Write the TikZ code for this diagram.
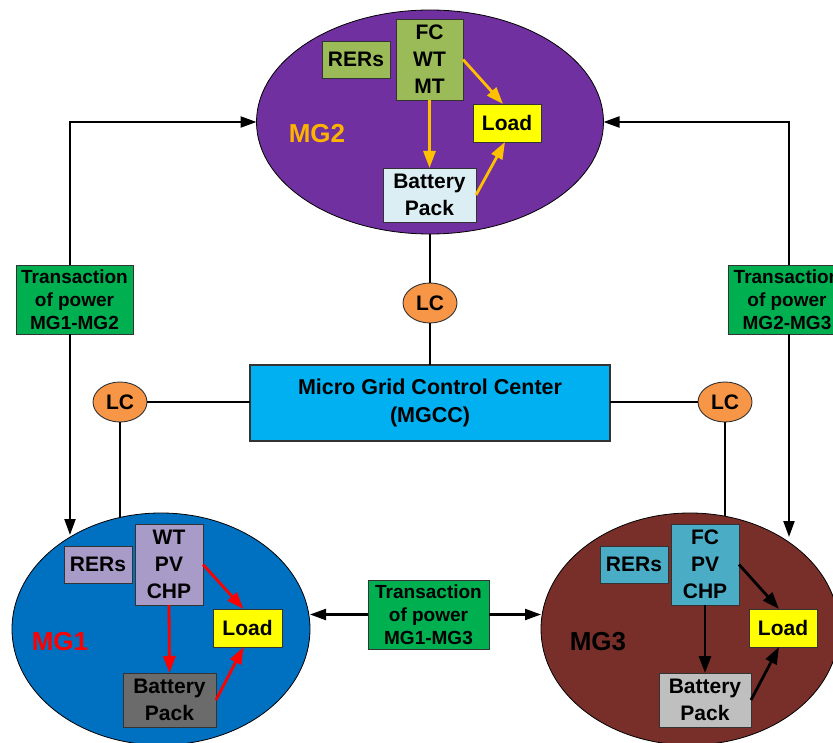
\documentclass[tikz,border=0pt]{standalone}
\usepackage{fontspec}
\setmainfont{Liberation Sans}
\usetikzlibrary{shapes.geometric,arrows.meta}
\definecolor{mgpurple}{HTML}{7030A0}
\definecolor{mgblue}{HTML}{0070C0}
\definecolor{mgbrown}{HTML}{782F29}
\definecolor{olivebox}{HTML}{9BBB59}
\definecolor{lavbox}{HTML}{A99BC8}
\definecolor{tealbox}{HTML}{4BACC6}
\definecolor{loadyellow}{HTML}{FFFF00}
\definecolor{batlight}{HTML}{DBEEF4}
\definecolor{batdark}{HTML}{6B6B6B}
\definecolor{batgray}{HTML}{BFBFBF}
\definecolor{trgreen}{HTML}{00B050}
\definecolor{lcorange}{HTML}{F79646}
\definecolor{mgccblue}{HTML}{00B0F0}
\definecolor{goldarrow}{HTML}{FFC000}
\definecolor{mgtwolab}{HTML}{FDB300}
\begin{document}
\begin{tikzpicture}[x=1pt,y=-1pt,
  grid/.style={ellipse, draw=black, line width=0.8pt, inner sep=0pt, outer sep=0pt},
  blk/.style={rectangle, draw=black!80, line width=0.9pt, inner sep=0pt, outer sep=0pt, align=center, text=black, font=\fontsize{21}{27}\selectfont\bfseries},
  lcnode/.style={ellipse, draw=black!80, line width=0.9pt, fill=lcorange, minimum width=54pt, minimum height=40pt, inner sep=0pt, outer sep=0pt, font=\fontsize{21}{25}\selectfont\bfseries},
  trans/.style={blk, fill=trgreen, minimum width=117pt, minimum height=69pt, font=\fontsize{19}{23}\selectfont\bfseries},
  mglabel/.style={font=\fontsize{26}{30}\selectfont\bfseries, inner sep=0pt},
  conn/.style={line width=2.2pt, draw=black},
  tip/.style={-{Triangle[length=16pt,width=11pt]}},
  flow/.style={line width=2.8pt, -{Triangle[length=17pt,width=12pt]}}
]
\useasboundingbox (0,0) rectangle (833,743);
\clip (0,0) rectangle (833,743);

% micro grids
\node[grid, fill=mgpurple, minimum width=347pt, minimum height=224pt] (mg2) at (430,122) {};
\node[grid, fill=mgblue, minimum width=298pt, minimum height=232pt] (mg1) at (161,629) {};
\node[grid, fill=mgbrown, minimum width=298pt, minimum height=232pt] (mg3) at (690,629) {};

\node[mglabel, text=mgtwolab] (lab2) at (317,134) {MG2};
\node[mglabel, text=red] (lab1) at (60,642) {MG1};
\node[mglabel, text=black] (lab3) at (598,642) {MG3};

% MG2 contents
\node[blk, fill=olivebox, minimum width=68pt, minimum height=37pt] (rers2) at (356,59.5) {RERs};
\node[blk, fill=olivebox, minimum width=67pt, minimum height=81pt] (src2) at (429.5,59.5) {FC\\WT\\MT};
\node[blk, fill=loadyellow, minimum width=68pt, minimum height=38pt] (load2) at (507,123) {Load};
\node[blk, fill=batlight, minimum width=93pt, minimum height=54pt] (bat2) at (429.5,195) {Battery\\Pack};
\draw[flow, draw=goldarrow] (src2.south) -- (bat2.north);
\draw[flow, draw=goldarrow] (src2.east) -- ([xshift=-4pt]load2.north);
\draw[flow, draw=goldarrow] (bat2.east) -- ([xshift=-2pt]load2.south);

% MG1 contents
\node[blk, fill=lavbox, minimum width=68pt, minimum height=37pt] (rers1) at (98,564.5) {RERs};
\node[blk, fill=lavbox, minimum width=68pt, minimum height=81pt] (src1) at (169,564.5) {WT\\PV\\CHP};
\node[blk, fill=loadyellow, minimum width=69pt, minimum height=38pt] (load1) at (247.5,628) {Load};
\node[blk, fill=batdark, minimum width=93pt, minimum height=54pt] (bat1) at (169.5,700) {Battery\\Pack};
\draw[flow, draw=red] (src1.south) -- (bat1.north);
\draw[flow, draw=red] (src1.east) -- ([xshift=-4pt]load1.north);
\draw[flow, draw=red] (bat1.east) -- ([xshift=-4pt]load1.south);

% MG3 contents
\node[blk, fill=tealbox, minimum width=68pt, minimum height=37pt] (rers3) at (634,564.5) {RERs};
\node[blk, fill=tealbox, minimum width=68pt, minimum height=81pt] (src3) at (705,564.5) {FC\\PV\\CHP};
\node[blk, fill=loadyellow, minimum width=68pt, minimum height=38pt] (load3) at (783,628) {Load};
\node[blk, fill=batgray, minimum width=92pt, minimum height=54pt] (bat3) at (705,700) {Battery\\Pack};
\draw[flow, draw=black] (src3.south) -- (bat3.north);
\draw[flow, draw=black] (src3.east) -- ([xshift=-4pt]load3.north);
\draw[flow, draw=black] (bat3.east) -- ([xshift=-4pt]load3.south);

% control
\node[blk, fill=mgccblue, line width=2pt, minimum width=360pt, minimum height=76pt, font=\fontsize{21.5}{28}\selectfont\bfseries] (mgcc) at (430,403) {Micro Grid Control Center\\(MGCC)};
\node[lcnode] (lc2) at (430,303) {LC};
\node[lcnode] (lc1) at (120,402) {LC};
\node[lcnode] (lc3) at (725,402) {LC};

\coordinate (f1) at (120,518);
\coordinate (f3) at (725,516);
\draw[conn] (mg2.south) -- (lc2.north);
\draw[conn] (lc2.south) -- (mgcc.north);
\draw[conn] (lc1.east) -- (lc1.east -| mgcc.west);
\draw[conn] (lc3.west -| mgcc.east) -- (lc3.west);
\draw[conn] (lc1.south) -- (f1);
\draw[conn] (lc3.south) -- (f3);

% transactions
\node[trans] (t12) at (74.5,299.5) {Transaction\\of power\\MG1-MG2};
\node[trans, minimum width=118pt] (t23) at (787,299.5) {Transaction\\of power\\MG2-MG3};
\node[trans, minimum width=121pt] (t13) at (428.5,614.5) {Transaction\\of power\\MG1-MG3};

\coordinate (k12) at (70,122);
\coordinate (e1) at (70,535);
\coordinate (k23) at (789,122);
\coordinate (e3) at (789,537);
\draw[conn,tip] (t12.north -| k12) |- (mg2.west);
\draw[conn,tip] (t12.south -| k12) -- (e1);
\draw[conn,tip] (t23.north -| k23) |- (mg2.east);
\draw[conn,tip] (t23.south -| k23) -- (e3);
\draw[conn,tip] (t13.west) -- (t13.west -| mg1.east);
\draw[conn,tip] (t13.east) -- (t13.east -| mg3.west);
\end{tikzpicture}
\end{document}
